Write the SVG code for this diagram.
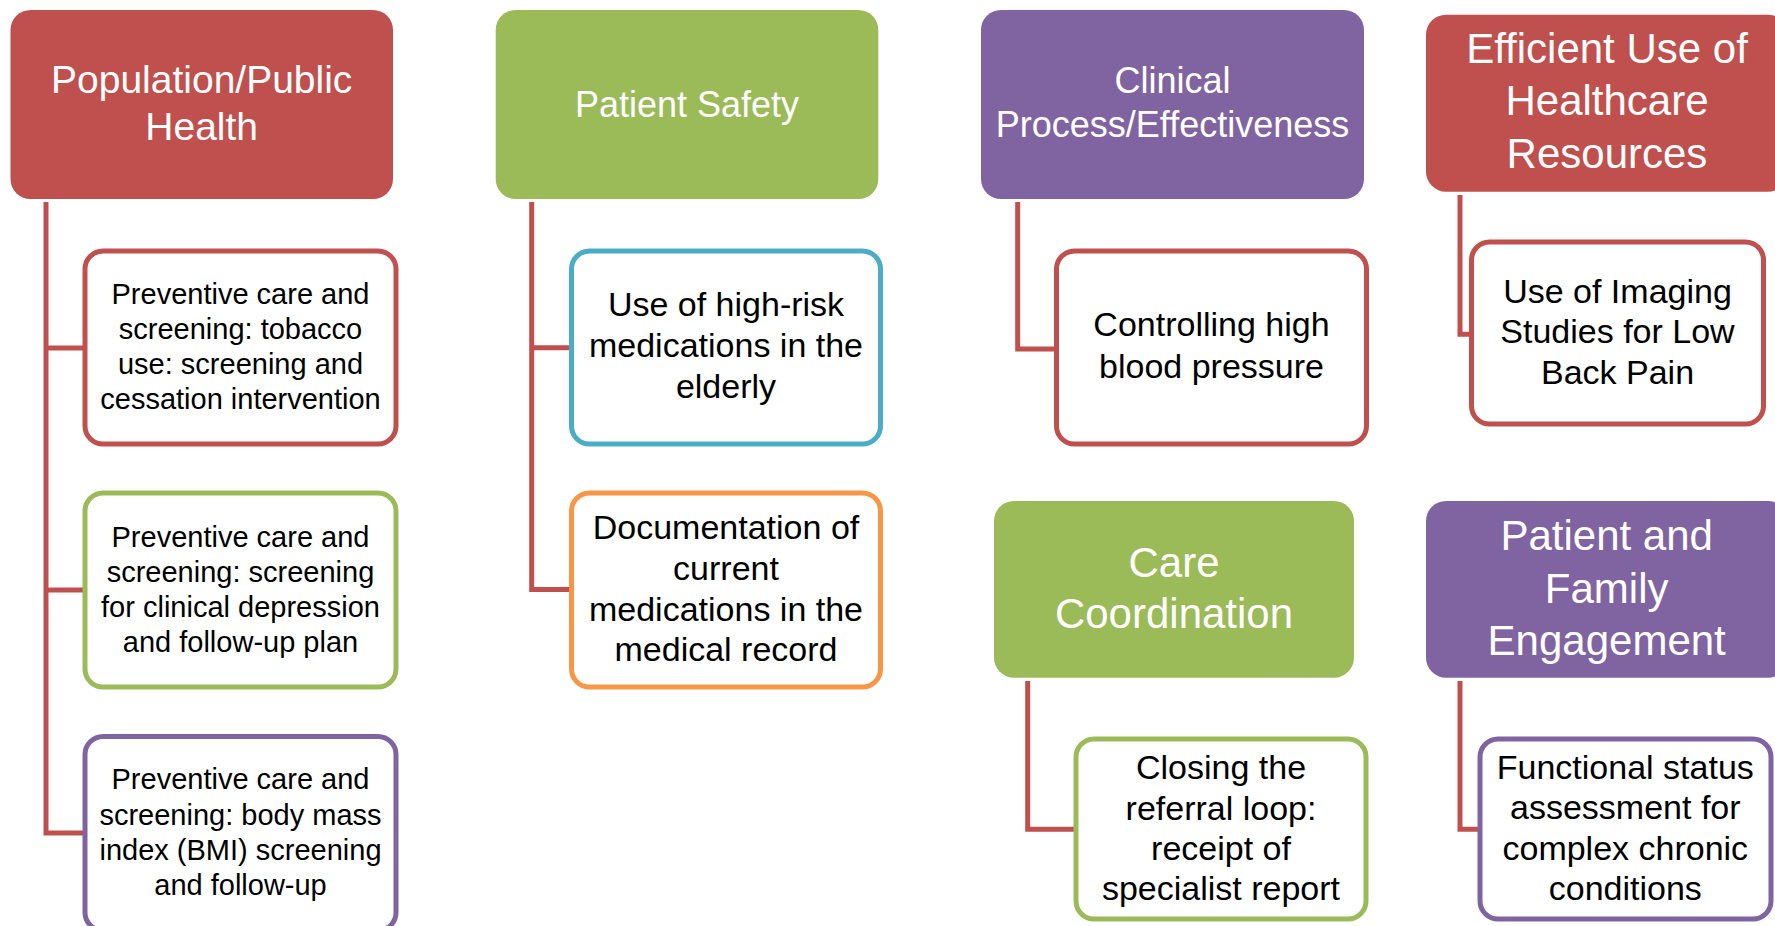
<svg xmlns="http://www.w3.org/2000/svg" width="1775" height="926" viewBox="0 0 1775 926">
  <style>
    .hdr { stroke: none; }
    .red { fill: #C0504D; }
    .green { fill: #9BBB59; }
    .purple { fill: #8064A2; }
    .child { fill: #FFFFFF; stroke-width: 5; }
    .b-red { stroke: #C0504D; }
    .b-green { stroke: #9BBB59; }
    .b-purple { stroke: #8064A2; }
    .b-blue { stroke: #4BACC6; }
    .b-orange { stroke: #F79646; }
    .conn { fill: none; stroke: #C0504D; stroke-width: 5; stroke-linejoin: miter; }
    text { font-family: "Liberation Sans", Arial, sans-serif; text-anchor: middle; }
    .ht { fill: #FFFFFF; font-size: 36px; }
    .ht1 { fill: #FFFFFF; font-size: 39px; }
    .ht2 { fill: #FFFFFF; font-size: 42px; }
    .ct { fill: #000000; font-size: 29px; }
    .ct2 { fill: #000000; font-size: 34px; }
  </style>

  <rect width="1775" height="926" fill="#FFFFFF"/>

  <!-- connectors -->
  <g id="connectors">
    <path class="conn" d="M46,202 V833 H85 M46,348 H85 M46,590 H85"/>
    <path class="conn" d="M531.7,202 V589.5 H571 M531.7,347.7 H571"/>
    <path class="conn" d="M1017.7,202 V349 H1056"/>
    <path class="conn" d="M1027.7,681 V829.3 H1076"/>
    <path class="conn" d="M1460,195 V334.3 H1471"/>
    <path class="conn" d="M1460,681 V829.3 H1480"/>
  </g>

  <!-- Population/Public Health -->
  <g id="population-health">
    <rect class="hdr red" x="10.5" y="10" width="382.5" height="189" rx="20"/>
    <text class="ht1" x="201.7" y="93">Population/Public</text>
    <text class="ht1" x="201.7" y="140">Health</text>
  </g>
  <g id="tobacco-screening">
    <rect class="child b-red" x="85" y="251" width="311" height="193" rx="18"/>
    <text class="ct" x="240.5" y="304">Preventive care and</text>
    <text class="ct" x="240.5" y="339">screening: tobacco</text>
    <text class="ct" x="240.5" y="374">use: screening and</text>
    <text class="ct" x="240.5" y="409">cessation intervention</text>
  </g>
  <g id="depression-screening">
    <rect class="child b-green" x="85" y="493" width="311" height="194" rx="18"/>
    <text class="ct" x="240.5" y="547">Preventive care and</text>
    <text class="ct" x="240.5" y="582">screening: screening</text>
    <text class="ct" x="240.5" y="617">for clinical depression</text>
    <text class="ct" x="240.5" y="652">and follow-up plan</text>
  </g>
  <g id="bmi-screening">
    <rect class="child b-purple" x="85" y="736.5" width="311" height="194" rx="18"/>
    <text class="ct" x="240.5" y="789">Preventive care and</text>
    <text class="ct" x="240.5" y="825">screening: body mass</text>
    <text class="ct" x="240.5" y="860">index (BMI) screening</text>
    <text class="ct" x="240.5" y="895">and follow-up</text>
  </g>

  <!-- Patient Safety -->
  <g id="patient-safety">
    <rect class="hdr green" x="495.7" y="10" width="382.6" height="189" rx="20"/>
    <text class="ht" x="687" y="116.7">Patient Safety</text>
  </g>
  <g id="high-risk-meds">
    <rect class="child b-blue" x="571.5" y="251" width="309" height="193" rx="18"/>
    <text class="ct2" x="726" y="316">Use of high-risk</text>
    <text class="ct2" x="726" y="357">medications in the</text>
    <text class="ct2" x="726" y="398">elderly</text>
  </g>
  <g id="med-documentation">
    <rect class="child b-orange" x="571.5" y="493" width="309" height="194" rx="18"/>
    <text class="ct2" x="726" y="539">Documentation of</text>
    <text class="ct2" x="726" y="579.5">current</text>
    <text class="ct2" x="726" y="620.5">medications in the</text>
    <text class="ct2" x="726" y="661">medical record</text>
  </g>

  <!-- Clinical Process/Effectiveness -->
  <g id="clinical-process">
    <rect class="hdr purple" x="981" y="10" width="383" height="189" rx="20"/>
    <text class="ht" x="1172.5" y="93.3">Clinical</text>
    <text class="ht" x="1172.5" y="137.3">Process/Effectiveness</text>
  </g>
  <g id="blood-pressure">
    <rect class="child b-red" x="1056.5" y="251" width="310" height="193" rx="18"/>
    <text class="ct2" x="1211.5" y="336">Controlling high</text>
    <text class="ct2" x="1211.5" y="377.5">blood pressure</text>
  </g>

  <!-- Care Coordination -->
  <g id="care-coordination">
    <rect class="hdr green" x="994" y="501" width="360" height="176.7" rx="20"/>
    <text class="ht2" x="1174" y="576.7">Care</text>
    <text class="ht2" x="1174" y="628.3">Coordination</text>
  </g>
  <g id="referral-loop">
    <rect class="child b-green" x="1076" y="739" width="290" height="180" rx="18"/>
    <text class="ct2" x="1221" y="779">Closing the</text>
    <text class="ct2" x="1221" y="819.5">referral loop:</text>
    <text class="ct2" x="1221" y="859.5">receipt of</text>
    <text class="ct2" x="1221" y="900">specialist report</text>
  </g>

  <!-- Efficient Use of Healthcare Resources -->
  <g id="efficient-use">
    <rect class="hdr red" x="1426" y="14.7" width="362" height="177" rx="20"/>
    <text class="ht2" x="1607" y="63.3">Efficient Use of</text>
    <text class="ht2" x="1607" y="115">Healthcare</text>
    <text class="ht2" x="1607" y="167.7">Resources</text>
  </g>
  <g id="imaging-studies">
    <rect class="child b-red" x="1471.5" y="242" width="292" height="182" rx="18"/>
    <text class="ct2" x="1617.5" y="302.7">Use of Imaging</text>
    <text class="ct2" x="1617.5" y="343.3">Studies for Low</text>
    <text class="ct2" x="1617.5" y="384">Back Pain</text>
  </g>

  <!-- Patient and Family Engagement -->
  <g id="family-engagement">
    <rect class="hdr purple" x="1426" y="501" width="362" height="176.7" rx="20"/>
    <text class="ht2" x="1606.7" y="550">Patient and</text>
    <text class="ht2" x="1606.7" y="602.7">Family</text>
    <text class="ht2" x="1606.7" y="655">Engagement</text>
  </g>
  <g id="functional-status">
    <rect class="child b-purple" x="1480" y="739" width="291" height="180" rx="18"/>
    <text class="ct2" x="1625.3" y="778.5">Functional status</text>
    <text class="ct2" x="1625.3" y="819">assessment for</text>
    <text class="ct2" x="1625.3" y="859.5">complex chronic</text>
    <text class="ct2" x="1625.3" y="899.5">conditions</text>
  </g>
</svg>
